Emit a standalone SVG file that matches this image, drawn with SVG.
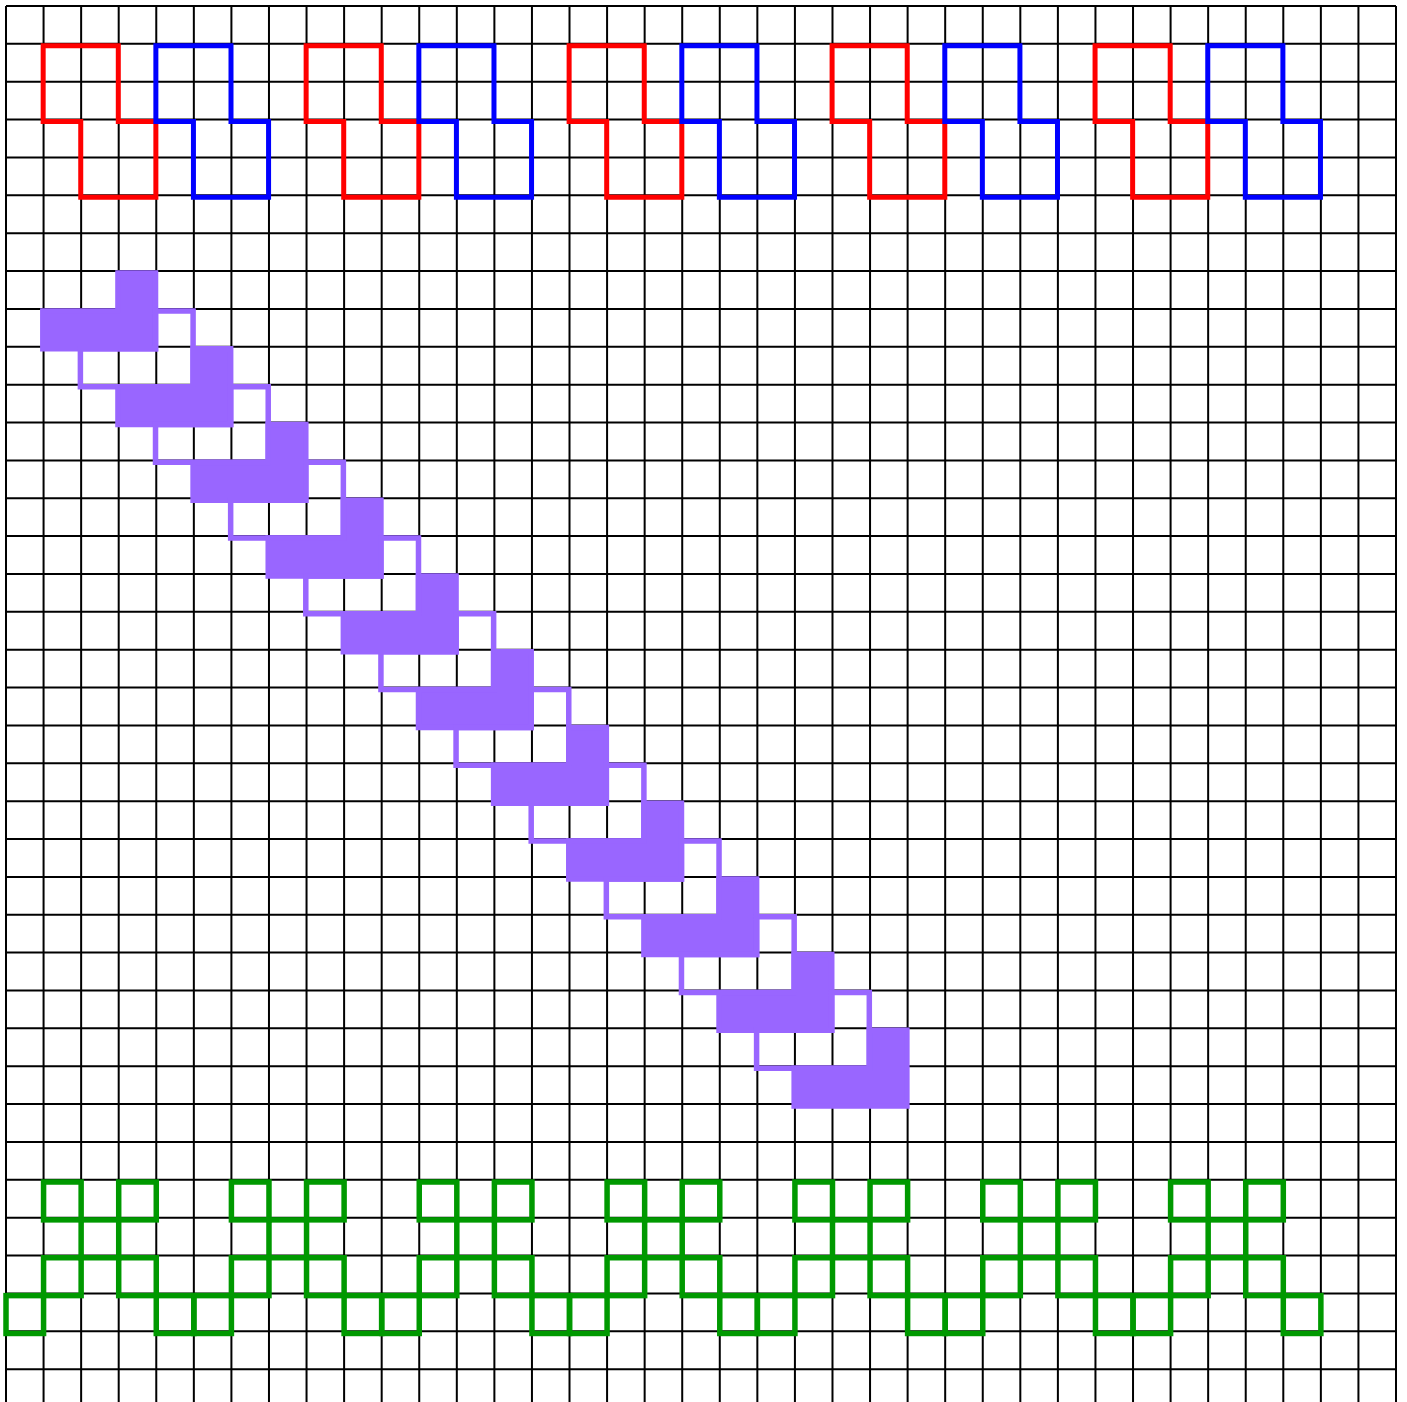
<svg xmlns="http://www.w3.org/2000/svg" xmlns:xlink="http://www.w3.org/1999/xlink" width="1407" height="1402" viewBox="0 0 1407 1402">
<style>
.grid{fill:none;stroke:#000;stroke-width:2}
.red{fill:none;stroke:#ff0000;stroke-width:5;stroke-linejoin:miter}
.blue{fill:none;stroke:#0000ff;stroke-width:5;stroke-linejoin:miter}
.green{fill:none;stroke:#009900;stroke-width:5.5;stroke-linejoin:miter}
.pfill{fill:#9966ff;stroke:none}
.pline{fill:none;stroke:#9966ff;stroke-width:5.5;stroke-linejoin:miter}
</style>
<defs>
<path id="zz" d="M43.57 43.86H118.70V119.59H156.27V195.32H81.14V119.59H43.57Z"/>
<path id="ll" d="M43.57 308.92H118.70V271.05H156.27V346.78H43.57Z"/>
<g id="gg">
<rect x="43.57" y="1179.81" width="37.57" height="37.86"/>
<rect x="118.70" y="1179.81" width="37.57" height="37.86"/>
<rect x="81.14" y="1217.68" width="37.57" height="37.86"/>
<rect x="43.57" y="1255.54" width="37.57" height="37.86"/>
<rect x="118.70" y="1255.54" width="37.57" height="37.86"/>
<rect x="6" y="1293.41" width="37.57" height="37.86"/>
<rect x="156.27" y="1293.41" width="37.57" height="37.86"/>
</g>
</defs>
<rect width="1407" height="1402" fill="#fff"/>
<g id="grid" class="grid">
<path d="M6 6V1402M43.57 6V1402M81.14 6V1402M118.70 6V1402M156.27 6V1402M193.84 6V1402M231.41 6V1402M268.97 6V1402M306.54 6V1402M344.11 6V1402M381.68 6V1402M419.24 6V1402M456.81 6V1402M494.38 6V1402M531.95 6V1402M569.51 6V1402M607.08 6V1402M644.65 6V1402M682.22 6V1402M719.78 6V1402M757.35 6V1402M794.92 6V1402M832.49 6V1402M870.05 6V1402M907.62 6V1402M945.19 6V1402M982.76 6V1402M1020.32 6V1402M1057.89 6V1402M1095.46 6V1402M1133.03 6V1402M1170.59 6V1402M1208.16 6V1402M1245.73 6V1402M1283.30 6V1402M1320.86 6V1402M1358.43 6V1402M1396 6V1402"/>
<path d="M6 6H1396M6 43.86H1396M6 81.73H1396M6 119.59H1396M6 157.46H1396M6 195.32H1396M6 233.19H1396M6 271.05H1396M6 308.92H1396M6 346.78H1396M6 384.65H1396M6 422.51H1396M6 460.38H1396M6 498.24H1396M6 536.11H1396M6 573.97H1396M6 611.84H1396M6 649.70H1396M6 687.57H1396M6 725.43H1396M6 763.30H1396M6 801.16H1396M6 839.03H1396M6 876.89H1396M6 914.76H1396M6 952.62H1396M6 990.49H1396M6 1028.35H1396M6 1066.22H1396M6 1104.08H1396M6 1141.95H1396M6 1179.81H1396M6 1217.68H1396M6 1255.54H1396M6 1293.41H1396M6 1331.27H1396M6 1369.14H1396"/>
</g>
<g id="red-shapes" class="red" transform="translate(-0.4 2)">
<use xlink:href="#zz"/>
<use xlink:href="#zz" transform="translate(262.97 0)"/>
<use xlink:href="#zz" transform="translate(525.95 0)"/>
<use xlink:href="#zz" transform="translate(788.92 0)"/>
<use xlink:href="#zz" transform="translate(1051.89 0)"/>
</g>
<g id="blue-shapes" class="blue" transform="translate(-0.4 2)">
<use xlink:href="#zz" transform="translate(112.70 0)"/>
<use xlink:href="#zz" transform="translate(375.68 0)"/>
<use xlink:href="#zz" transform="translate(638.65 0)"/>
<use xlink:href="#zz" transform="translate(901.62 0)"/>
<use xlink:href="#zz" transform="translate(1164.59 0)"/>
</g>
<g id="purple-filled" class="pfill">
<use xlink:href="#ll"/>
<use xlink:href="#ll" transform="translate(75.14 75.73)"/>
<use xlink:href="#ll" transform="translate(150.27 151.46)"/>
<use xlink:href="#ll" transform="translate(225.41 227.19)"/>
<use xlink:href="#ll" transform="translate(300.54 302.92)"/>
<use xlink:href="#ll" transform="translate(375.68 378.65)"/>
<use xlink:href="#ll" transform="translate(450.81 454.38)"/>
<use xlink:href="#ll" transform="translate(525.95 530.11)"/>
<use xlink:href="#ll" transform="translate(601.08 605.84)"/>
<use xlink:href="#ll" transform="translate(676.22 681.57)"/>
<use xlink:href="#ll" transform="translate(751.35 757.30)"/>
</g>
<g id="purple-outlines" class="pline" transform="translate(-0.75 2)">
<use xlink:href="#ll"/>
<use xlink:href="#ll" transform="translate(37.57 37.86)"/>
<use xlink:href="#ll" transform="translate(75.14 75.73)"/>
<use xlink:href="#ll" transform="translate(112.70 113.59)"/>
<use xlink:href="#ll" transform="translate(150.27 151.46)"/>
<use xlink:href="#ll" transform="translate(187.84 189.32)"/>
<use xlink:href="#ll" transform="translate(225.41 227.19)"/>
<use xlink:href="#ll" transform="translate(262.97 265.05)"/>
<use xlink:href="#ll" transform="translate(300.54 302.92)"/>
<use xlink:href="#ll" transform="translate(338.11 340.78)"/>
<use xlink:href="#ll" transform="translate(375.68 378.65)"/>
<use xlink:href="#ll" transform="translate(413.24 416.51)"/>
<use xlink:href="#ll" transform="translate(450.81 454.38)"/>
<use xlink:href="#ll" transform="translate(488.38 492.24)"/>
<use xlink:href="#ll" transform="translate(525.95 530.11)"/>
<use xlink:href="#ll" transform="translate(563.51 567.97)"/>
<use xlink:href="#ll" transform="translate(601.08 605.84)"/>
<use xlink:href="#ll" transform="translate(638.65 643.70)"/>
<use xlink:href="#ll" transform="translate(676.22 681.57)"/>
<use xlink:href="#ll" transform="translate(713.78 719.43)"/>
<use xlink:href="#ll" transform="translate(751.35 757.30)"/>
</g>
<g id="green-shapes" class="green" transform="translate(0 2.2)">
<use xlink:href="#gg"/>
<use xlink:href="#gg" transform="translate(187.84 0)"/>
<use xlink:href="#gg" transform="translate(375.68 0)"/>
<use xlink:href="#gg" transform="translate(563.51 0)"/>
<use xlink:href="#gg" transform="translate(751.35 0)"/>
<use xlink:href="#gg" transform="translate(939.19 0)"/>
<use xlink:href="#gg" transform="translate(1127.03 0)"/>
</g>
</svg>
